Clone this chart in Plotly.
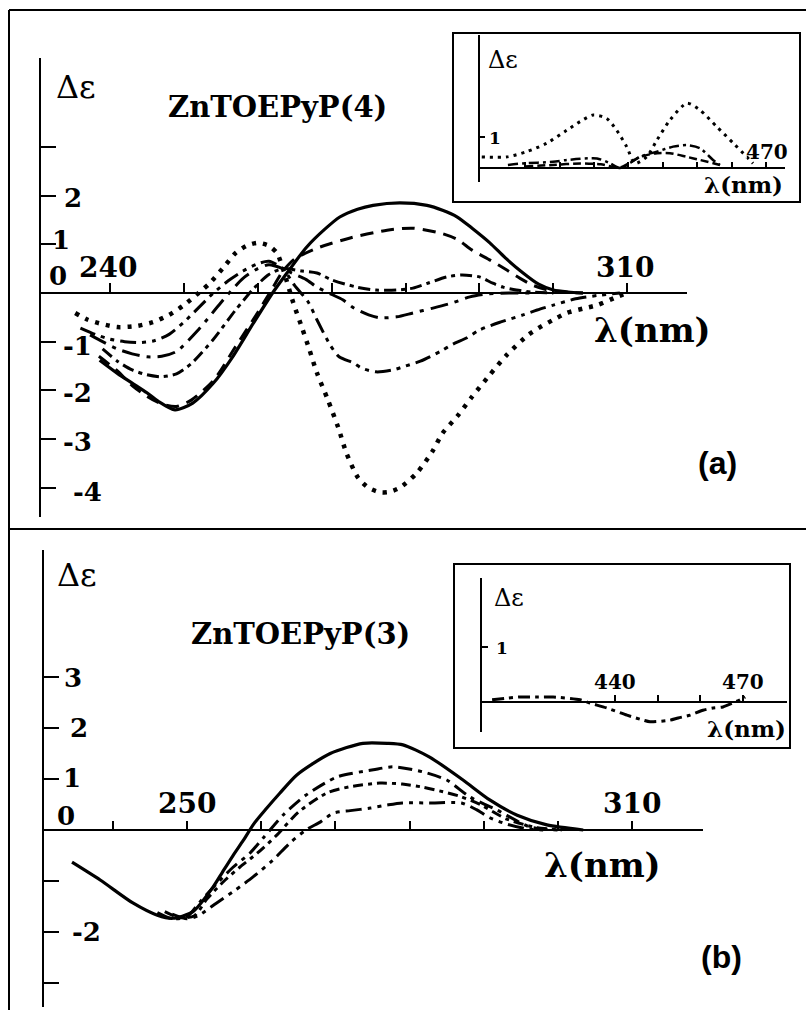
import plotly.graph_objects as go

W, H = 806, 1010

# ---------------- Panel (a): ZnTOEPyP(4), main spectra ----------------
a_solid_lam = [238.6, 241, 243, 245, 246.5, 248.8, 251.2, 254, 256.6, 259.4, 262, 264, 266.6, 269, 271.1, 273.5, 275.6, 279.2, 282.9, 285, 287, 289, 291.4, 293.5, 295.9, 298, 300, 302, 304]
a_solid_de = [-1.38, -1.65, -1.85, -2.05, -2.22, -2.4, -2.26, -1.85, -1.31, -0.62, 0.0, 0.42, 0.94, 1.3, 1.56, 1.72, 1.8, 1.85, 1.8, 1.7, 1.56, 1.33, 1.03, 0.72, 0.41, 0.18, 0.06, 0.02, 0.0]

a_dash_lam = [238.5, 241, 243, 245, 247, 249, 251, 254, 257, 260, 262, 263.4, 265, 268, 272.5, 277.5, 281, 284.7, 287, 289, 291.5, 293.7, 295.5, 297.2, 299, 301, 304]
a_dash_de = [-1.3, -1.6, -1.9, -2.12, -2.28, -2.33, -2.2, -1.8, -1.1, -0.4, 0.1, 0.45, 0.7, 0.92, 1.13, 1.29, 1.33, 1.23, 1.1, 0.88, 0.67, 0.47, 0.3, 0.16, 0.07, 0.02, 0.0]

a_dd1_lam = [239, 241, 243, 245, 247, 249, 251, 254, 257, 259.5, 261.5, 263.4, 266, 268, 270, 273.4, 276, 278.8, 281, 283, 285.6, 287.6, 290, 291.8, 293.2, 295, 297, 300]
a_dd1_de = [-1.15, -1.4, -1.58, -1.68, -1.72, -1.66, -1.45, -0.95, -0.35, 0.1, 0.38, 0.5, 0.45, 0.41, 0.27, 0.12, 0.06, 0.06, 0.1, 0.2, 0.33, 0.37, 0.33, 0.2, 0.12, 0.06, 0.02, 0.0]

a_dd2_lam = [237.3, 239, 241, 243, 245, 247, 249, 252, 255, 258, 260, 261.5, 263.4, 265, 266.5, 268, 270, 271.5, 273, 275, 276.5, 278.8, 281, 283.7, 286.4, 288.7, 291, 294, 297]
a_dd2_de = [-0.86, -1.0, -1.15, -1.25, -1.31, -1.3, -1.2, -0.75, -0.2, 0.3, 0.5, 0.58, 0.5, 0.38, 0.28, 0.12, -0.03, -0.14, -0.31, -0.45, -0.51, -0.49, -0.41, -0.31, -0.2, -0.08, -0.02, 0.0, 0.0]

a_dd3_lam = [236, 238, 240, 242, 244, 246, 248, 250, 252, 254, 256, 258, 260, 261.5, 263.4, 265, 266.8, 268, 269.8, 271, 273, 274, 276, 278.3, 280, 282, 284.7, 286.4, 288.3, 290, 292.8, 295.9, 297.8, 300, 303, 306, 309]
a_dd3_de = [-0.72, -0.85, -0.95, -1.0, -1.02, -0.98, -0.85, -0.6, -0.3, 0.0, 0.25, 0.45, 0.6, 0.65, 0.5, 0.15, -0.18, -0.55, -1.07, -1.31, -1.44, -1.54, -1.62, -1.58, -1.5, -1.4, -1.2, -1.05, -0.92, -0.76, -0.6, -0.45, -0.35, -0.25, -0.12, -0.05, 0.0]

a_dot_lam = [235.3, 237, 239, 241, 243.5, 245.8, 248, 250, 252, 253.5, 255.5, 257, 258.5, 260, 261.5, 262.6, 263.4, 264.8, 266, 267, 268, 269.5, 270.9, 272, 273.6, 275, 276.5, 277.6, 279.2, 281.5, 283.6, 285, 287, 289, 291.4, 293.7, 296.6, 298, 300, 301.8, 304, 305.9, 308.6, 310]
a_dot_de = [-0.41, -0.55, -0.64, -0.7, -0.68, -0.6, -0.45, -0.25, 0.0, 0.2, 0.55, 0.82, 0.97, 1.03, 0.97, 0.82, 0.5, -0.2, -0.72, -1.17, -1.64, -2.2, -2.77, -3.29, -3.8, -4.0, -4.09, -4.09, -4.0, -3.7, -3.26, -2.88, -2.53, -2.13, -1.68, -1.27, -0.86, -0.72, -0.55, -0.41, -0.32, -0.25, -0.08, 0.0]

a_xticks = [240, 250, 260, 270, 280, 290, 300, 310]
a_xlabels = {240: "240", 310: "310"}
a_yticks = [3, 2, 1, -1, -2, -3, -4]
a_ylabels = {2: "2", 1: "1", 0: "0", -1: "-1", -2: "-2", -3: "-3", -4: "-4"}

# ---------------- Inset (a): Soret region ----------------
ia_dot_lam = [387.4, 394.7, 400.5, 406.3, 412.1, 416, 419.8, 423.7, 426.6, 429.5, 431.9, 435.3, 438.3, 442.1, 447, 450.8, 455.7, 460.5, 464.4, 466.2]
ia_dot_de = [0.36, 0.36, 0.53, 0.8, 1.22, 1.5, 1.71, 1.6, 1.22, 0.69, 0.15, 0.36, 0.9, 1.55, 2.09, 1.87, 1.33, 0.8, 0.36, 0.15]
ia_dd_lam = [395, 399.4, 408.1, 412.2, 420.9, 424.7, 427.6, 433.4, 438.3, 443, 447, 450.8, 454.6, 456.6]
ia_dd_de = [0.1, 0.15, 0.2, 0.26, 0.31, 0.15, 0.0, 0.36, 0.53, 0.69, 0.74, 0.64, 0.26, 0.1]
ia_dash_lam = [400, 408, 416, 422, 427.6, 433.4, 438.3, 442.1, 447, 450.8, 456.6]
ia_dash_de = [0.05, 0.1, 0.15, 0.12, 0.02, 0.36, 0.48, 0.48, 0.36, 0.26, 0.1]
ia_xticks = [400, 410, 420, 430, 440, 450, 460, 470]
ia_yticks = [1]

# ---------------- Panel (b): ZnTOEPyP(3), main spectra ----------------
b_solid_lam = [234.5, 238.3, 242.7, 246, 248.1, 250.8, 253.5, 254.8, 256.2, 257.6, 259, 260.7, 262.5, 264.8, 269.3, 273.7, 277, 279.1, 282.7, 287.2, 290.8, 294.5, 298.5, 303.4]
b_solid_de = [-0.63, -0.98, -1.43, -1.67, -1.73, -1.6, -1.12, -0.82, -0.5, -0.2, 0.12, 0.42, 0.72, 1.08, 1.5, 1.7, 1.7, 1.67, 1.43, 0.98, 0.59, 0.29, 0.1, 0.0]

b_dd1_lam = [246, 248, 250, 251.8, 254, 256.2, 258.5, 260.3, 263, 266, 270.2, 275.1, 277.8, 281.8, 285, 288.1, 291.8, 296.2, 300]
b_dd1_de = [-1.62, -1.74, -1.7, -1.4, -1.05, -0.73, -0.45, -0.15, 0.3, 0.68, 1.04, 1.18, 1.24, 1.14, 0.98, 0.65, 0.39, 0.06, 0.0]

b_dd2_lam = [247, 249, 251, 252.7, 255, 257.1, 259.5, 262.1, 265, 268.9, 272, 276, 279, 281.8, 284.5, 286.8, 289.5, 293, 297, 300.5]
b_dd2_de = [-1.6, -1.72, -1.68, -1.35, -1.0, -0.73, -0.45, -0.1, 0.35, 0.73, 0.85, 0.92, 0.9, 0.84, 0.75, 0.66, 0.5, 0.22, 0.05, 0.0]

b_dd3_lam = [248, 250, 251.5, 254, 256.5, 258.9, 261.5, 263.9, 266, 268, 269.7, 272, 274.7, 277, 279, 283, 287, 289, 290.8, 293, 295.5, 298]
b_dd3_de = [-1.65, -1.74, -1.68, -1.43, -1.18, -0.92, -0.6, -0.25, 0.0, 0.16, 0.33, 0.38, 0.43, 0.49, 0.53, 0.53, 0.53, 0.4, 0.24, 0.12, 0.03, 0.0]

b_xticks = [240, 250, 260, 270, 280, 290, 300, 310]
b_xlabels = {250: "250", 310: "310"}
b_yticks = [3, 2, 1, -1, -2, -3]
b_ylabels = {3: "3", 2: "2", 1: "1", 0: "0", -2: "-2"}

# ---------------- Inset (b) ----------------
ib_lam = [411.2, 414.7, 417.7, 421.7, 425.5, 431.8, 434.1, 438.1, 442.8, 446.6, 448.2, 452.9, 454.8, 457.6, 460.6, 463, 465.3, 469.3, 470.5]
ib_de = [0.04, 0.07, 0.09, 0.09, 0.09, 0.04, -0.02, -0.11, -0.24, -0.33, -0.36, -0.33, -0.29, -0.24, -0.15, -0.11, -0.09, 0.04, 0.09]
ib_xticks = [440, 450, 460, 470]
ib_xlabels = {440: "440", 470: "470"}
ib_yticks = [1]


def px_x(p):
    return p / W


def px_y(p):
    return 1 - p / H


SERIF = "DejaVu Serif"
SANS = "Liberation Sans"

fig = go.Figure()


def add(lam, de, xa, ya, dash, width=3.0):
    fig.add_trace(go.Scatter(
        x=lam, y=de, mode="lines", xaxis=xa, yaxis=ya,
        line=dict(color="black", width=width, dash=dash, shape="spline", smoothing=0.7),
        showlegend=False, hoverinfo="skip"))


# panel (a)
add(a_solid_lam, a_solid_de, "x", "y", "solid", 3.2)
add(a_dash_lam, a_dash_de, "x", "y", "13px,8px", 3)
add(a_dd1_lam, a_dd1_de, "x", "y", "12px,5px,4px,5px", 3)
add(a_dd2_lam, a_dd2_de, "x", "y", "18px,7px,4px,7px", 3)
add(a_dd3_lam, a_dd3_de, "x", "y", "16px,6px,4px,6px,4px,6px", 3)
add(a_dot_lam, a_dot_de, "x", "y", "4px,7px", 4.5)
# inset (a)
add(ia_dot_lam, ia_dot_de, "x2", "y2", "3px,5px", 3)
add(ia_dd_lam, ia_dd_de, "x2", "y2", "10px,4px,3px,4px", 2.5)
add(ia_dash_lam, ia_dash_de, "x2", "y2", "8px,4px", 2.5)
# panel (b)
add(b_solid_lam, b_solid_de, "x3", "y3", "solid", 3.2)
add(b_dd1_lam, b_dd1_de, "x3", "y3", "14px,6px,4px,6px", 3)
add(b_dd2_lam, b_dd2_de, "x3", "y3", "10px,5px,4px,5px", 3)
add(b_dd3_lam, b_dd3_de, "x3", "y3", "16px,6px,4px,6px,4px,6px", 3)
# inset (b)
add(ib_lam, ib_de, "x4", "y4", "12px,5px,4px,5px", 3)

common = dict(showgrid=False, zeroline=False, showline=True, linecolor="black",
              linewidth=2, ticks="inside", tickcolor="black", tickwidth=2,
              showticklabels=False, fixedrange=True)

fig.update_layout(
    width=W, height=H, margin=dict(l=0, r=0, t=0, b=0),
    paper_bgcolor="white", plot_bgcolor="rgba(0,0,0,0)",
    xaxis=dict(domain=[px_x(40), px_x(687)], range=[230.53, 318.08], anchor="free",
               position=px_y(293), tickvals=a_xticks, ticklen=9, **common),
    yaxis=dict(domain=[px_y(517), px_y(58)], range=[-4.6, 4.825], anchor="free",
               position=px_x(40), tickvals=a_yticks, ticklen=15, **common),
    xaxis2=dict(domain=[px_x(479), px_x(785)], range=[386.6, 475.5], anchor="free",
                position=px_y(168), tickvals=ia_xticks, ticklen=5, **common),
    yaxis2=dict(domain=[px_y(182), px_y(35)], range=[-0.45, 4.29], anchor="free",
                position=px_x(479), tickvals=ia_yticks, ticklen=5, **common),
    xaxis3=dict(domain=[px_x(43), px_x(703)], range=[230.59, 319.54], anchor="free",
                position=px_y(830), tickvals=b_xticks, ticklen=8, **common),
    yaxis3=dict(domain=[px_y(1007), px_y(550)], range=[-3.47, 5.49], anchor="free",
                position=px_x(43), tickvals=b_yticks, ticklen=15, **common),
    xaxis4=dict(domain=[px_x(481), px_x(787)], range=[408.6, 480.3], anchor="free",
                position=px_y(702), tickvals=ib_xticks, ticklen=6, **common),
    yaxis4=dict(domain=[px_y(732), px_y(578)], range=[-0.545, 2.25], anchor="free",
                position=px_x(481), tickvals=ib_yticks, ticklen=6, **common),
)

# frame lines and inset boxes
shapes = [
    dict(type="line", xref="paper", yref="paper", x0=px_x(9), x1=1, y0=px_y(10), y1=px_y(10)),
    dict(type="line", xref="paper", yref="paper", x0=px_x(9), x1=px_x(9), y0=px_y(10), y1=0),
    dict(type="line", xref="paper", yref="paper", x0=px_x(9), x1=1, y0=px_y(529), y1=px_y(529)),
    dict(type="rect", xref="paper", yref="paper", x0=px_x(453), x1=px_x(800), y0=px_y(202), y1=px_y(33)),
    dict(type="rect", xref="paper", yref="paper", x0=px_x(454), x1=px_x(790), y0=px_y(748), y1=px_y(564)),
]
for s in shapes:
    s["line"] = dict(color="black", width=2)
fig.update_layout(shapes=shapes)

ann = []


def txt(text, x, y, size, family=SERIF, bold=True, xref="paper", yref="paper",
        xshift=0, yshift=0):
    t = "<b>%s</b>" % text if bold else text
    ann.append(dict(text=t, x=x, y=y, xref=xref, yref=yref, showarrow=False,
                    xanchor="center", yanchor="middle", xshift=xshift, yshift=yshift,
                    font=dict(family=family, size=size, color="black")))


# panel (a) texts
txt("Δε", px_x(76), px_y(87), 32, bold=False)
txt("ZnTOEPyP(4)", px_x(277), px_y(107), 29)
txt("λ(nm)", px_x(652), px_y(330), 34)
txt("(a)", px_x(717), px_y(463), 32, SANS)
a_yshift = {2: (33, -2), 1: (21, 4), 0: (18, 17), -1: (37, -4), -2: (37, -3), -3: (37, -3), -4: (47, -4)}
for v, lab in a_ylabels.items():
    dx, dy = a_yshift[v]
    txt(lab, 0, v, 26, xref="x domain", yref="y", xshift=dx, yshift=dy)
for v, lab in a_xlabels.items():
    txt(lab, v, 0, 28, xref="x", yref="y", xshift=-2, yshift=25)

# inset (a) texts
txt("Δε", px_x(503), px_y(60), 24, bold=False)
txt("λ(nm)", px_x(743), px_y(185), 23)
txt("1", 0, 1, 17, xref="x2 domain", yref="y2", xshift=16, yshift=-1)
txt("470", 470, 0, 20, xref="x2", yref="y2", xshift=1, yshift=16)

# panel (b) texts
txt("Δε", px_x(77), px_y(575), 32, bold=False)
txt("ZnTOEPyP(3)", px_x(300), px_y(634), 29)
txt("λ(nm)", px_x(602), px_y(865), 34)
txt("(b)", px_x(721), px_y(957), 32, SANS)
b_yshift = {3: (30, -1), 2: (36, 0), 1: (29, 1), 0: (23, 14), -2: (43, 0)}
for v, lab in b_ylabels.items():
    dx, dy = b_yshift[v]
    txt(lab, 0, v, 26, xref="x3 domain", yref="y3", xshift=dx, yshift=dy)
for v, lab in b_xlabels.items():
    txt(lab, v, 0, 28, xref="x3", yref="y3", xshift=0, yshift=27)

# inset (b) texts
txt("Δε", px_x(509), px_y(598), 24, bold=False)
txt("λ(nm)", px_x(746), px_y(728), 23)
txt("1", 0, 1, 17, xref="x4 domain", yref="y4", xshift=21, yshift=-1)
for v, lab in ib_xlabels.items():
    txt(lab, v, 0, 20, xref="x4", yref="y4", xshift=0, yshift=20)

fig.update_layout(annotations=ann)
fig.write_html("out.html")
